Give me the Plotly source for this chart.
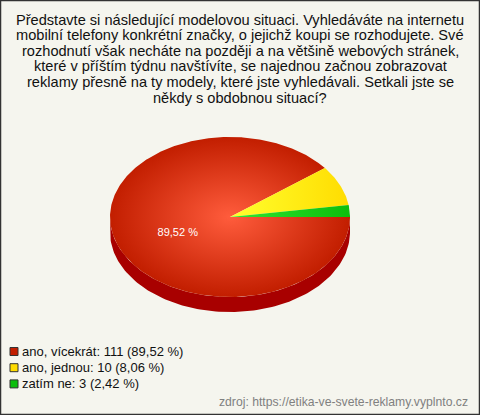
import numpy as np
import plotly.graph_objects as go

# data
categories = ["ano, vícekrát", "ano, jednou", "zatím ne"]
counts = [111, 10, 3]

title_lines = [
    "Představte si následující modelovou situaci. Vyhledáváte na internetu",
    "mobilní telefony konkrétní značky, o jejichž koupi se rozhodujete. Své",
    "rozhodnutí však necháte na později a na většině webových stránek,",
    "které v příštím týdnu navštívíte, se najednou začnou zobrazovat",
    "reklamy přesně na ty modely, které jste vyhledávali. Setkali jste se",
    "někdy s obdobnou situací?",
]
source_text = "zdroj: https://etika-ve-svete-reklamy.vyplnto.cz"

# styles
edge_colors = ["#c21e00", "#ffdc00", "#0cbe0c"]
center_colors = ["#ff5c3c", "#ffff2e", "#30e630"]
side_colors = ["#a80000", "#c8a800", "#089008"]
FONT = "Liberation Sans, Arial, sans-serif"

W, H = 480, 415
cx, cy, rx, ry, depth = 230, 217, 120, 80, 15

total = sum(counts)
shares = [c / total for c in counts]
pct_txt = [f"{s * 100:.2f}".replace(".", ",") + " %" for s in shares]

fig = go.Figure()

# slice boundaries (clockwise from 3 o'clock, y axis points down)
bounds = np.concatenate([[0], np.cumsum(shares)]) * 2 * np.pi

# side of the 3D pie: only the front half (0..pi) is visible
for i in range(len(counts)):
    a0, a1 = bounds[i], min(bounds[i + 1], np.pi)
    if a1 <= a0:
        continue
    t = np.linspace(a0, a1, 120)
    ex = cx + rx * np.cos(t)
    ey = cy + ry * np.sin(t)
    fig.add_trace(go.Scatter(
        x=np.concatenate([ex, ex[::-1]]),
        y=np.concatenate([ey, (ey + depth)[::-1]]),
        mode="lines", fill="toself", fillcolor=side_colors[i],
        line=dict(width=0), hoverinfo="skip", showlegend=False,
    ))

# top face slices
for i in range(len(counts)):
    a0, a1 = bounds[i], bounds[i + 1]
    t = np.linspace(a0, a1, max(int((a1 - a0) * 80), 8))
    px = np.concatenate([[cx], cx + rx * np.cos(t), [cx]])
    py = np.concatenate([[cy], cy + ry * np.sin(t), [cy]])
    if shares[i] > 0.5:
        grad = dict(type="radial",
                    colorscale=[[0, center_colors[i]], [1, edge_colors[i]]])
    else:
        grad = dict(type="horizontal", start=cx, stop=cx + rx,
                    colorscale=[[0, center_colors[i]], [1, edge_colors[i]]])
    fig.add_trace(go.Scatter(
        x=px, y=py, mode="lines", fill="toself", fillgradient=grad,
        line=dict(width=0), hoverinfo="skip", showlegend=False,
    ))

# percentage label inside the big slice
for i in range(len(counts)):
    if shares[i] < 0.2:
        continue
    mid = (bounds[i] + bounds[i + 1]) / 2
    fig.add_trace(go.Scatter(
        x=[cx + 0.46 * rx * np.cos(mid)], y=[cy + 0.62 * ry * np.sin(mid)],
        mode="text", text=[pct_txt[i]],
        textfont=dict(family=FONT, size=11, color="white"),
        hoverinfo="skip", showlegend=False,
    ))

# title, one annotation per line (tight line spacing)
for k, line in enumerate(title_lines):
    fig.add_annotation(
        text=line, xref="paper", yref="paper",
        x=0.5, y=1 - (20 + k * 15.5) / H, xanchor="center", yanchor="middle",
        showarrow=False, font=dict(family=FONT, size=14.6, color="#111111"),
    )

# legend: swatch + text rows
for i in range(len(counts)):
    yc = 351.5 + i * 16.2
    fig.add_shape(type="rect", xref="paper", yref="paper",
                  x0=10 / W, x1=18 / W, y0=1 - (yc + 4) / H, y1=1 - (yc - 4) / H,
                  fillcolor=edge_colors[i], line=dict(color="#333333", width=1))
    fig.add_annotation(
        text=f"{categories[i]}: {counts[i]} ({pct_txt[i]})",
        xref="paper", yref="paper", x=20 / W, y=1 - yc / H,
        xanchor="left", yanchor="middle", showarrow=False,
        font=dict(family=FONT, size=13, color="#111111"),
    )

fig.add_annotation(
    text=source_text, xref="paper", yref="paper",
    x=1 - 10 / W, y=1 - 402 / H, xanchor="right", yanchor="middle",
    showarrow=False, font=dict(family=FONT, size=12.2, color="#808080"),
)

fig.add_shape(type="rect", xref="paper", yref="paper", x0=0, y0=0, x1=1, y1=1,
              line=dict(color="#333333", width=2.5), layer="above")

fig.update_layout(
    width=W, height=H,
    margin=dict(l=0, r=0, t=0, b=0),
    paper_bgcolor="#f5f5ee", plot_bgcolor="#f5f5ee",
    xaxis=dict(range=[0, W], visible=False, fixedrange=True),
    yaxis=dict(range=[H, 0], visible=False, fixedrange=True),
    showlegend=False,
)

fig.write_html("out.html", config={"displayModeBar": False},
               post_script="document.body.style.margin='0';")
